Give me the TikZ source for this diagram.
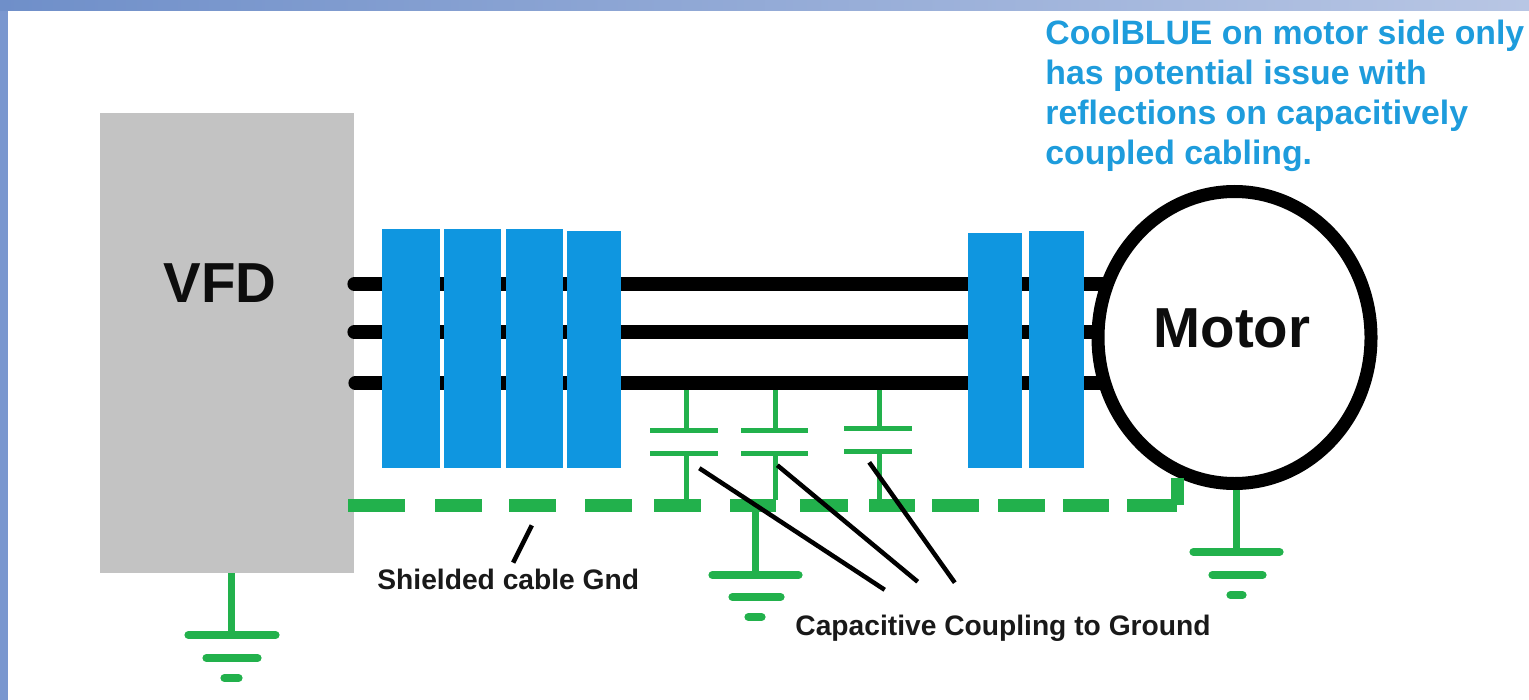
\documentclass[tikz,border=0pt]{standalone}
\usepackage{fontspec}
\setmainfont{Liberation Sans}
\usetikzlibrary{positioning, shapes.geometric}

\def\px{0.5pt}
\definecolor{coolblue}{HTML}{0F96E0}
\definecolor{notetext}{HTML}{1E9CDC}
\definecolor{gndgreen}{HTML}{22B14C}
\definecolor{vfdgray}{HTML}{C3C3C3}
\definecolor{framedark}{HTML}{6F8FC9}
\definecolor{framelight}{HTML}{B8C6E4}
\definecolor{frameside}{HTML}{7A97CF}

\tikzstyle{end} = [circle, fill, minimum size = 0mm, inner sep = 0pt]
\tikzstyle{wire} = [draw, black, line width = 14*\px, line cap = round]
\tikzstyle{ferrite} = [rectangle, fill = coolblue, inner sep = 0pt, outer sep = 0pt, minimum width = 57*\px, minimum height = 238*\px]
\tikzstyle{leader} = [draw, black, line width = 4.5*\px]
\tikzstyle{capline} = [draw, gndgreen, line width = 5*\px]
\tikzstyle{stem} = [draw, gndgreen, line width = 7*\px]
\tikzstyle{plate} = [draw, gndgreen, line width = 8*\px, line cap = round]
\tikzstyle{shield} = [draw, gndgreen, line width = 13*\px]
\tikzstyle{note} = [font = \bfseries\fontsize{14.1}{17}\selectfont, text = black!90, inner sep = 0pt]
\tikzstyle{title} = [font = \bfseries\fontsize{28.2}{32}\selectfont, text = black!95, inner sep = 0pt]

\begin{document}
\begin{tikzpicture}[x = 0.5pt, y = -0.5pt]
        \useasboundingbox (0, 0) rectangle (1529, 700);

        % slide frame
        \fill[left color = framedark, right color = framelight] (0, 0) rectangle (1529, 11);
        \fill[frameside] (0, 11) rectangle (8, 700);

        \node[rectangle, fill = vfdgray, inner sep = 0pt, outer sep = 0pt, minimum width = 254*\px, minimum height = 460*\px] at (227, 343) (vfd) {};
        \node[title] at (220, 283) (vfdlabel) {VFD};

        % wires first, boxes on top
        \node[end] at (354, 284) (W1) {};
        \node[end] at (1110, 284) (M1) {};
        \node[end] at (354, 332) (W2) {};
        \node[end] at (1110, 332) (M2) {};
        \node[end] at (355, 383) (W3) {};
        \node[end] at (1110, 383) (M3) {};
        \path[wire] (W1) -- (M1);
        \path[wire] (W2) -- (M2);
        \path[wire] (W3) -- (M3);

        \node[ferrite, minimum width = 58*\px, minimum height = 239*\px] at (411, 348.5) (F1) {};
        \node[ferrite, right = 4*\px of F1, minimum width = 57*\px, minimum height = 239*\px] (F2) {};
        \node[ferrite, right = 5*\px of F2, minimum width = 57*\px, minimum height = 239*\px] (F3) {};
        \node[ferrite, right = 4*\px of F3, minimum width = 54*\px, minimum height = 237*\px, yshift = -1*\px] (F4) {};
        \node[ferrite, minimum width = 54*\px, minimum height = 235*\px] at (995, 350.5) (F5) {};
        \node[ferrite, right = 7*\px of F5, minimum width = 55*\px, minimum height = 237*\px, yshift = 1*\px] (F6) {};

        \node[ellipse, draw, black, fill = white, line width = 13*\px, inner sep = 0pt, outer sep = 0pt, minimum width = 273*\px, minimum height = 292*\px] at (1234.5, 337.5) (motor) {};
        \node[title] at (1232, 328) (motorlabel) {Motor};

        % shield, dashes as they fall in the drawing
        \node[end] at (348, 505) (S1) {};
        \node[end] at (1177, 505) (S2) {};
        \node[end] at (1177, 478) (S3) {};
        \path[shield, dash pattern = on 28.5pt off 15pt on 23.5pt off 13.5pt on 23.5pt off 14.5pt on 23.5pt off 11pt on 23.5pt off 14.5pt on 23pt off 12pt on 24pt off 10.5pt on 23pt off 8.5pt on 23.5pt off 9.5pt on 23.5pt off 9pt on 23pt off 9pt on 40pt off 500pt] (S1) -- (S2) -- (S3);

        % capacitors
        \node[end] at (686, 390) (C1a) {};
        \node[end] at (686, 430) (C1b) {};
        \node[end] at (650, 430) (C1c) {};
        \node[end] at (718, 430) (C1d) {};
        \node[end] at (650, 453) (C1e) {};
        \node[end] at (718, 453) (C1f) {};
        \node[end] at (686, 453) (C1g) {};
        \node[end] at (686, 500) (C1h) {};
        \path[capline] (C1a) -- (C1b);
        \path[capline] (C1c) -- (C1d);
        \path[capline] (C1e) -- (C1f);
        \path[capline] (C1g) -- (C1h);

        \node[end] at (775, 390) (C2a) {};
        \node[end] at (775, 430) (C2b) {};
        \node[end] at (741, 430) (C2c) {};
        \node[end] at (808, 430) (C2d) {};
        \node[end] at (741, 453) (C2e) {};
        \node[end] at (808, 453) (C2f) {};
        \node[end] at (775, 453) (C2g) {};
        \node[end] at (775, 500) (C2h) {};
        \path[capline] (C2a) -- (C2b);
        \path[capline] (C2c) -- (C2d);
        \path[capline] (C2e) -- (C2f);
        \path[capline] (C2g) -- (C2h);

        \node[end] at (879, 390) (C3a) {};
        \node[end] at (879, 428) (C3b) {};
        \node[end] at (844, 428) (C3c) {};
        \node[end] at (912, 428) (C3d) {};
        \node[end] at (844, 451) (C3e) {};
        \node[end] at (912, 451) (C3f) {};
        \node[end] at (879, 451) (C3g) {};
        \node[end] at (879, 500) (C3h) {};
        \path[capline] (C3a) -- (C3b);
        \path[capline] (C3c) -- (C3d);
        \path[capline] (C3e) -- (C3f);
        \path[capline] (C3g) -- (C3h);

        % grounds
        \node[end] at (231, 573) (G1) {};
        \node[end] at (231, 635) (G1a) {};
        \node[end] at (188, 635) (G1b) {};
        \node[end] at (276, 635) (G1c) {};
        \node[end] at (206, 658) (G1d) {};
        \node[end] at (258, 658) (G1e) {};
        \node[end] at (224, 678) (G1f) {};
        \node[end] at (239, 678) (G1g) {};
        \path[stem] (G1) -- (G1a);
        \path[plate] (G1b) -- (G1c);
        \path[plate] (G1d) -- (G1e);
        \path[plate] (G1f) -- (G1g);

        \node[end] at (755, 510) (G2) {};
        \node[end] at (755, 575) (G2a) {};
        \node[end] at (712, 575) (G2b) {};
        \node[end] at (799, 575) (G2c) {};
        \node[end] at (732, 597) (G2d) {};
        \node[end] at (781, 597) (G2e) {};
        \node[end] at (748, 617) (G2f) {};
        \node[end] at (762, 617) (G2g) {};
        \path[stem] (G2) -- (G2a);
        \path[plate] (G2b) -- (G2c);
        \path[plate] (G2d) -- (G2e);
        \path[plate] (G2f) -- (G2g);

        \node[end] at (1236, 490) (G3) {};
        \node[end] at (1236, 552) (G3a) {};
        \node[end] at (1193, 552) (G3b) {};
        \node[end] at (1280, 552) (G3c) {};
        \node[end] at (1212, 575) (G3d) {};
        \node[end] at (1263, 575) (G3e) {};
        \node[end] at (1230, 595) (G3f) {};
        \node[end] at (1243, 595) (G3g) {};
        \path[stem] (G3) -- (G3a);
        \path[plate] (G3b) -- (G3c);
        \path[plate] (G3d) -- (G3e);
        \path[plate] (G3f) -- (G3g);

        % labels and their leaders
        \node[note, anchor = west] at (377, 579) (shieldlabel) {Shielded cable Gnd};
        \node[note, anchor = west] at (795, 628) (couplinglabel) {Capacitive Coupling to Ground};

        \node[end] at (532, 525) (L0a) {};
        \node[end] at (513, 563) (L0b) {};
        \path[leader] (L0a) -- (L0b);
        \node[end] at (699, 468) (L1a) {};
        \node[end] at (885, 590) (L1b) {};
        \path[leader] (L1a) -- (L1b);
        \node[end] at (777, 465) (L2a) {};
        \node[end] at (918, 582) (L2b) {};
        \path[leader] (L2a) -- (L2b);
        \node[end] at (869, 462) (L3a) {};
        \node[end] at (955, 583) (L3b) {};
        \path[leader] (L3a) -- (L3b);

        \node[anchor = north west, align = left, inner sep = 0pt, text = notetext, font = \bfseries\fontsize{16.9}{20}\selectfont] at (1045, 20) (coolnote) {CoolBLUE on motor side only\\has potential issue with\\reflections on capacitively\\coupled cabling.};
    \end{tikzpicture}
\end{document}
